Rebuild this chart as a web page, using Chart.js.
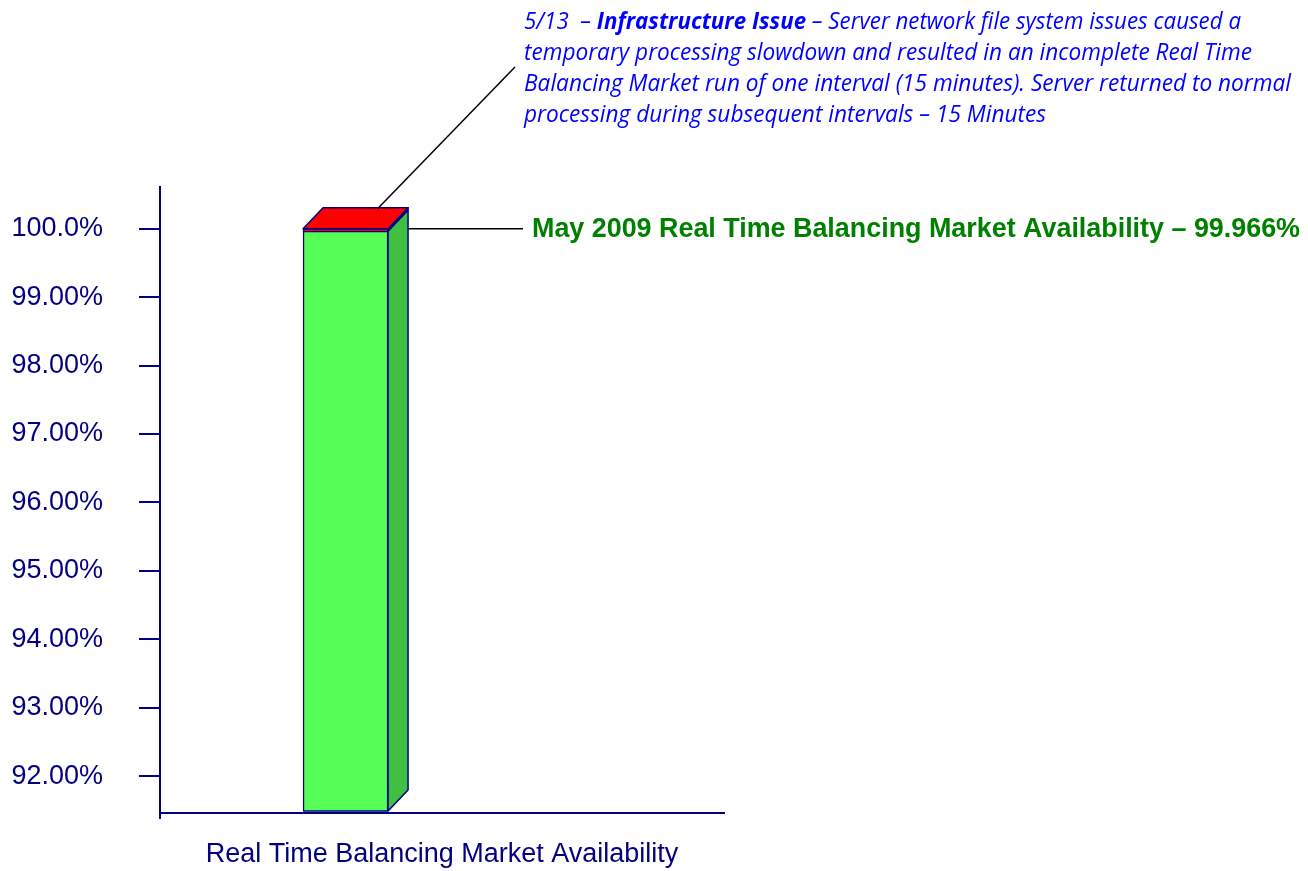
<!DOCTYPE html>
<html>
<head>
<meta charset="utf-8">
<script src="https://cdn.jsdelivr.net/npm/chart.js@4"></script>
<style>
  html, body { margin: 0; padding: 0; background: #fff; }
  #wrap { width: 1308px; height: 871px; position: relative; }
</style>
</head>
<body>
<div id="wrap"><canvas id="chartAvail"></canvas></div>
<script>
(function () {
  'use strict';

  // data
  var CATEGORIES = ['Real Time Balancing Market Availability'];
  var AVAILABLE = [99.966];
  var OUTAGE = [0.034];
  var Y_TICKS = [92, 93, 94, 95, 96, 97, 98, 99, 100];

  var SUMMARY = 'May 2009 Real Time Balancing Market Availability \u2013 99.966%';
  var NOTE_LINES = [
    [['5/13  \u2013 ', false], ['Infrastructure Issue', true], [' \u2013 Server network file system issues caused a', false]],
    [['temporary processing slowdown and resulted in an incomplete Real Time', false]],
    [['Balancing Market run of one interval (15 minutes). Server returned to normal', false]],
    [['processing during subsequent intervals \u2013 15 Minutes', false]]
  ];

  var C = {
    navy: '#000080',
    front: '#55FF55',
    side: '#40BF40',
    red: '#FF0000',
    note: '#0000FF',
    summary: '#008000'
  };
  var Y_MIN = 91.46, Y_MAX = 100.61;
  var DEPTH_X = 20, DEPTH_Y = 21;
  var NOTE_WIDTHS = [717, 728, 767, 522];

  function poly(ctx, pts, fill) {
    ctx.beginPath();
    ctx.moveTo(pts[0][0], pts[0][1]);
    for (var i = 1; i < pts.length; i++) ctx.lineTo(pts[i][0], pts[i][1]);
    ctx.closePath();
    ctx.fillStyle = fill;
    ctx.fill();
    ctx.stroke();
  }

  function noteFont(bold) {
    return (bold ? 'italic bold ' : 'italic ') + '23px "Open Sans", sans-serif';
  }

  function drawNoteLine(ctx, segs, x, y, target) {
    var total = 0, i;
    for (i = 0; i < segs.length; i++) {
      ctx.font = noteFont(segs[i][1]);
      total += ctx.measureText(segs[i][0]).width;
    }
    ctx.save();
    ctx.translate(x, y);
    ctx.scale(target / total, 1);
    var cx = 0;
    for (i = 0; i < segs.length; i++) {
      ctx.font = noteFont(segs[i][1]);
      ctx.fillText(segs[i][0], cx, 0);
      cx += ctx.measureText(segs[i][0]).width;
    }
    ctx.restore();
  }

  var bar3d = {
    id: 'bar3d',
    afterDatasetsDraw: function (chart) {
      var ctx = chart.ctx;
      var g = chart.getDatasetMeta(0).data[0];
      var r = chart.getDatasetMeta(1).data[0];
      var yScale = chart.scales.y;
      var L = g.x - g.width / 2, R = g.x + g.width / 2;
      var top = r.y, mid = g.y, bot = g.base;

      ctx.save();
      ctx.strokeStyle = C.navy;
      ctx.lineWidth = 1.5;
      ctx.lineJoin = 'round';
      // side face
      poly(ctx, [[R, mid], [R + DEPTH_X, mid - DEPTH_Y], [R + DEPTH_X, bot - DEPTH_Y], [R, bot]], C.side);
      poly(ctx, [[R, top], [R + DEPTH_X, top - DEPTH_Y], [R + DEPTH_X, mid - DEPTH_Y], [R, mid]], C.red);
      // top face
      poly(ctx, [[L, top], [L + DEPTH_X, top - DEPTH_Y], [R + DEPTH_X, top - DEPTH_Y], [R, top]], C.red);
      // front bottom edge
      ctx.beginPath();
      ctx.moveTo(L, bot);
      ctx.lineTo(R, bot);
      ctx.stroke();

      // small tick below the x axis at the y axis
      var area = chart.chartArea;
      ctx.lineWidth = 2;
      ctx.beginPath();
      ctx.moveTo(area.left, area.bottom);
      ctx.lineTo(area.left, area.bottom + 6);
      ctx.stroke();

      // callout lines
      ctx.strokeStyle = '#000';
      ctx.lineWidth = 1.5;
      ctx.beginPath();
      ctx.moveTo(g.x + 32, top - DEPTH_Y + 1);
      ctx.lineTo(515, 67);
      ctx.stroke();
      var y100 = yScale.getPixelForValue(100);
      ctx.beginPath();
      ctx.moveTo(R + DEPTH_X, y100);
      ctx.lineTo(523, y100);
      ctx.stroke();

      // summary label
      ctx.fillStyle = C.summary;
      ctx.font = 'bold 27px "Liberation Sans", Arial, sans-serif';
      ctx.textBaseline = 'alphabetic';
      ctx.fillText(SUMMARY, 532, 237, 768);

      // note
      ctx.fillStyle = C.note;
      for (var i = 0; i < NOTE_LINES.length; i++) {
        drawNoteLine(ctx, NOTE_LINES[i], 524, 29 + i * 31, NOTE_WIDTHS[i]);
      }
      ctx.restore();
    }
  };

  function pts(arr) {
    return arr.map(function (v, i) { return { x: i, y: v }; });
  }

  new Chart(document.getElementById('chartAvail'), {
    type: 'bar',
    data: {
      datasets: [
        {
          label: 'Available',
          data: pts(AVAILABLE),
          base: Y_MIN + 0.03,
          backgroundColor: C.front,
          borderColor: C.navy,
          borderWidth: 1.5,
          barThickness: 85
        },
        {
          label: 'Outage',
          data: pts(OUTAGE),
          backgroundColor: C.red,
          borderColor: C.navy,
          borderWidth: 1.5,
          barThickness: 85
        }
      ]
    },
    options: {
      responsive: true,
      maintainAspectRatio: false,
      animation: false,
      layout: { padding: { left: 0, top: 187, right: 584, bottom: 0 } },
      plugins: {
        legend: { display: false },
        tooltip: { enabled: false }
      },
      scales: {
        x: {
          type: 'linear',
          stacked: true,
          offset: false,
          min: -0.329,
          max: 0.671,
          grid: { display: false },
          border: { color: C.navy, width: 2 },
          ticks: { display: false },
          title: {
            display: true,
            text: CATEGORIES[0],
            color: C.navy,
            font: { family: '"Liberation Sans", Arial, sans-serif', size: 27 },
            padding: { top: 0, bottom: 0 }
          },
          afterFit: function (s) { s.height = 58; }
        },
        y: {
          stacked: true,
          min: Y_MIN,
          max: Y_MAX,
          afterBuildTicks: function (s) {
            s.ticks = Y_TICKS.map(function (v) { return { value: v }; });
          },
          afterFit: function (s) { s.width = 160; },
          border: { color: C.navy, width: 2 },
          grid: { drawOnChartArea: false, drawTicks: true, tickLength: 21, color: C.navy, lineWidth: 2 },
          ticks: {
            color: C.navy,
            padding: 36,
            font: { family: '"Liberation Sans", Arial, sans-serif', size: 27 },
            callback: function (v) { return v === 100 ? '100.0%' : v.toFixed(2) + '%'; }
          }
        }
      }
    },
    plugins: [bar3d]
  });
})();
</script>
</body>
</html>
